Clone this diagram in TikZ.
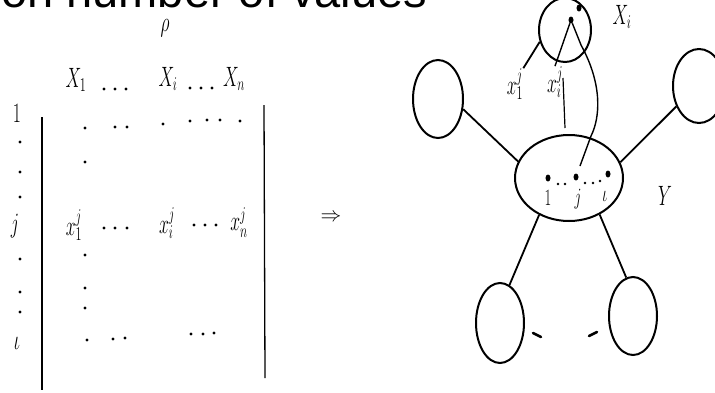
\documentclass[tikz,border=0pt]{standalone}
\usepackage{fontspec}
\usepackage{graphicx}
\newfontfamily\titlefont{Liberation Sans}
\usetikzlibrary{shapes.geometric}
\newcommand\tl[1]{\scalebox{0.85}[1.35]{#1}}
\begin{document}
\begin{tikzpicture}[x=1pt,y=-1pt,
  ell/.style={draw,ellipse,line width=2pt,inner sep=0pt},
  dt/.style={circle,fill,inner sep=0pt,minimum size=3.3pt},
  bigdt/.style={ellipse,fill,inner sep=0pt,minimum width=5pt,minimum height=7pt},
  lab/.style={inner sep=0pt,font=\fontsize{22}{24}\selectfont},
  small/.style={inner sep=0pt,font=\fontsize{16}{18}\selectfont},
  ln/.style={line width=1.8pt}]
\clip (0,0) rectangle (715,392);
\fill[white] (0,0) rectangle (715,392);
% title (cut off)
\node[anchor=base west,inner sep=0pt,font=\titlefont\fontsize{47}{50}\selectfont] (title) at (1,7) {on number of values};
% ---------- matrix ----------
\node[lab] (rho) at (165,28) {\tl{$\rho$}};
\node[lab] (X1) at (76,80) {\tl{$X_1$}};
\node[lab] (Xi) at (168,79) {\tl{$X_i$}};
\node[lab] (Xn) at (234,79) {\tl{$X_n$}};
\foreach \x/\n in {104/a,115/b,126/c} \node[dt] (h\n) at (\x,89) {};
\foreach \x/\n in {190/a,201/b,212/c} \node[dt] (k\n) at (\x,88) {};
\draw[line width=1.3pt] (42,117) -- (42,390);
\draw[line width=1.3pt] (264,105) -- (265,378);
% row labels
\node[lab] (r1) at (17,113) {\tl{$1$}};
\foreach \y/\n in {142/a,172/b,197/c} \node[dt] (rl\n) at (20,\y) {};
\node[lab] (rj) at (15,226) {\tl{$j$}};
\foreach \y/\n in {259/a,292/b,312/c} \node[dt] (rm\n) at (20,\y) {};
\node[lab] (rl) at (17,343) {\tl{$\iota$}};
% row 1 dots
\foreach \x/\y/\n in {85/128/a,115/127/b,127/127/c,163/124/d,190/121/e,207/120/f,220/120/g,240/121/h}
  \node[dt] (p\n) at (\x,\y) {};
\node[dt] (q1) at (85,162) {};
% row j
\node[lab] (x1j) at (74,225) {\tl{$x_1^j$}};
\foreach \x/\n in {104/a,115/b,127/c} \node[dt] (s\n) at (\x,228) {};
\node[lab] (xij) at (167,223) {\tl{$x_i^j$}};
\foreach \x/\n in {194/a,205/b,216/c} \node[dt] (t\n) at (\x,225) {};
\node[lab] (xnj) at (239,223) {\tl{$x_n^j$}};
\foreach \y/\n in {255/a,288/b,308/c} \node[dt] (u\n) at (85,\y) {};
% last row
\foreach \x/\y/\n in {87/340/a,113/339/b,125/338/c,191/334/d,203/334/e,214/333/f}
  \node[dt] (v\n) at (\x,\y) {};
% implies
\node[inner sep=0pt,font=\fontsize{22}{24}\selectfont] (imp) at (331,218) {$\Rightarrow$};
% ---------- graph ----------
\node[ell,minimum width=52pt,minimum height=64pt] (X) at (565,30) {};
\node[lab] (Xlab) at (622,17) {\tl{$X_i$}};
\node[bigdt] (d1) at (579,8) {};
\node[bigdt] (d2) at (571,20) {};
\node[ell,minimum width=108pt,minimum height=86pt] (Y) at (569,178) {};
\node[lab] (Ylab) at (665,196) {\tl{$Y$}};
\node[ell,minimum width=50pt,minimum height=78pt] (L) at (438,99) {};
\node[ell,minimum width=52pt,minimum height=74pt] (R) at (699,86) {};
\node[ell,minimum width=48pt,minimum height=80pt] (BL) at (500,323) {};
\node[ell,minimum width=48pt,minimum height=78pt] (BR) at (633,316) {};
% labels near X_i
\node[lab] (g1) at (515,84) {\tl{$x_1^j$}};
\node[lab] (gi) at (555,82) {\tl{$x_i^j$}};
% dots inside Y
\node[bigdt] (y1) at (548,178) {};
\node[bigdt] (yj) at (576,177) {};
\node[bigdt] (yl) at (608,174) {};
\foreach \x/\y/\n in {558/184/a,565/184/b,585/183/c,593/183/d,600/181/e} \node[dt,minimum size=2.8pt] (w\n) at (\x,\y) {};
\node[small] (n1) at (548,198) {\tl{$1$}};
\node[small] (nj) at (578,199) {\tl{$j$}};
\node[small] (nl) at (605,196) {\tl{$\iota$}};
% edges
\draw[ln] (L.-22) -- (Y.162);
\draw[ln] (R.222) -- (Y.17);
\draw[ln] (Y.231) -- (BL.76);
\draw[ln] (Y.-50) -- (BR.100);
\draw[ln] (X.205) -- (g1.north east);
\draw[line width=1.4pt] (d2) -- (gi.north);
\coordinate (c1) at (581,45);
\coordinate (c2) at (591,136);
\coordinate (c3) at (580,166);
\draw[line width=1.4pt] (d2) -- (c1) .. controls (603,85) and (600,118) .. (c2) -- (c3);
\coordinate (v1) at (563,78);
\coordinate (v2) at (565,128);
\draw[line width=1.2pt] (v1) -- (v2);
% short dashes
\draw[line width=2.6pt,line cap=round] (533,333) -- (541,337);
\draw[line width=2.6pt,line cap=round] (589,336) -- (597,332);
\end{tikzpicture}
\end{document}
